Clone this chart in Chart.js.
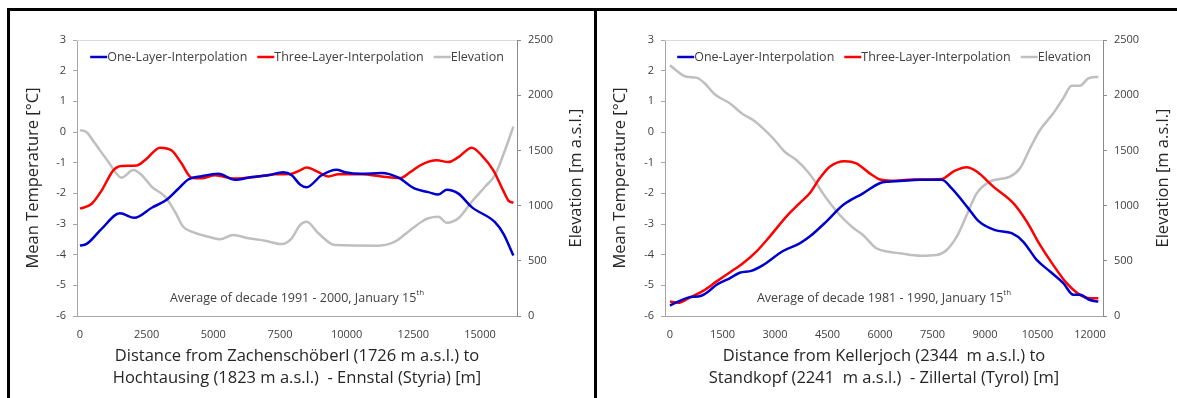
<!DOCTYPE html>
<html>
<head>
<meta charset="utf-8">
<script src="https://cdn.jsdelivr.net/npm/chart.js@4.4.1/dist/chart.umd.min.js"></script>
<style>
  html, body { margin: 0; padding: 0; background: #fff; }
  body { width: 1177px; height: 398px; position: relative; overflow: hidden; }
  .frame { position: absolute; left: 7px; top: 8px; width: 1180px; height: 400px;
           border-left: 3px solid #000; border-top: 3px solid #000; }
  .divider { position: absolute; left: 594px; top: 8px; width: 3px; height: 400px; background: #000; }
  canvas { position: absolute; top: 11px; }
  #leftChart { left: 10px; }
  #rightChart { left: 597px; }
</style>
</head>
<body>
<div class="frame"></div>
<div class="divider"></div>
<canvas id="leftChart" width="584" height="387"></canvas>
<canvas id="rightChart" width="580" height="387"></canvas>

<script>
// --- Daten ---

// Achsenbeschriftungen
const tempTicks = [-6, -5, -4, -3, -2, -1, 0, 1, 2, 3];
const elevTicks = [0, 500, 1000, 1500, 2000, 2500];
const leftXTicks = [0, 2500, 5000, 7500, 10000, 12500, 15000];
const rightXTicks = [0, 1500, 3000, 4500, 6000, 7500, 9000, 10500, 12000];

// Links: Zachenschöberl - Hochtausing (Ennstal)
const leftOneX = [0, 250, 810, 1500, 2040, 2690, 3250, 3690, 4060, 4560, 5190, 5810, 6440, 7060, 7620, 7940, 8250, 8500, 9060, 9620, 9940, 10560, 11310, 11940, 12560, 13060, 13440, 13750, 14190, 14690, 15560, 15880, 16250];
const leftOneY = [-3.70, -3.65, -3.16, -2.65, -2.80, -2.47, -2.21, -1.85, -1.55, -1.44, -1.36, -1.56, -1.47, -1.41, -1.31, -1.41, -1.71, -1.80, -1.41, -1.23, -1.31, -1.36, -1.34, -1.49, -1.85, -1.96, -2.04, -1.88, -2.01, -2.45, -2.94, -3.32, -4.03];
const leftThreeX = [0, 440, 810, 1250, 1560, 2130, 2500, 3000, 3440, 3810, 4190, 4560, 5060, 5810, 6560, 7310, 7940, 8250, 8500, 8940, 9310, 9690, 10560, 11310, 12000, 12380, 12810, 13380, 13810, 14190, 14690, 15060, 15500, 15870, 16060, 16250];
const leftThreeY = [-2.50, -2.34, -1.91, -1.25, -1.11, -1.09, -0.87, -0.51, -0.60, -1.03, -1.49, -1.51, -1.41, -1.52, -1.47, -1.38, -1.36, -1.25, -1.16, -1.31, -1.45, -1.38, -1.38, -1.45, -1.50, -1.31, -1.06, -0.92, -0.98, -0.82, -0.51, -0.76, -1.25, -1.91, -2.23, -2.31];
const leftElevX = [0, 250, 560, 1060, 1560, 2000, 2310, 2690, 3190, 3560, 3870, 4190, 4810, 5250, 5750, 6310, 6940, 7560, 7940, 8250, 8500, 8940, 9560, 11190, 11810, 12310, 12810, 13060, 13440, 13750, 14190, 14690, 15190, 15560, 15940, 16250];
const leftElevY = [1684, 1664, 1564, 1398, 1253, 1322, 1277, 1171, 1081, 945, 809, 764, 718, 695, 734, 704, 682, 652, 704, 824, 854, 749, 643, 637, 673, 764, 854, 885, 899, 845, 885, 1035, 1171, 1277, 1504, 1715];

// Rechts: Kellerjoch - Standkopf (Zillertal)
const rightOneX = [0, 229, 514, 894, 1086, 1323, 1706, 1991, 2323, 2657, 3229, 3706, 3991, 4466, 4943, 5514, 5991, 6229, 6571, 7143, 7763, 8049, 8523, 8809, 9286, 9763, 10094, 10477, 10857, 11237, 11523, 11714, 12000, 12237];
const rightOneY = [-5.66, -5.53, -5.40, -5.34, -5.21, -4.99, -4.77, -4.59, -4.53, -4.34, -3.88, -3.63, -3.41, -2.92, -2.38, -2.00, -1.67, -1.62, -1.60, -1.56, -1.56, -1.84, -2.49, -2.90, -3.20, -3.30, -3.58, -4.17, -4.55, -4.93, -5.31, -5.31, -5.48, -5.53];
const rightThreeX = [0, 229, 563, 943, 1323, 1706, 2086, 2466, 2849, 3323, 3706, 3991, 4277, 4563, 4991, 5323, 5706, 6000, 6286, 6951, 7763, 8094, 8477, 8763, 9237, 9809, 10191, 10571, 10951, 11334, 11714, 12000, 12237];
const rightThreeY = [-5.53, -5.57, -5.40, -5.18, -4.88, -4.58, -4.28, -3.90, -3.41, -2.76, -2.32, -2.00, -1.51, -1.13, -0.95, -1.02, -1.35, -1.55, -1.59, -1.55, -1.53, -1.29, -1.15, -1.29, -1.78, -2.32, -2.92, -3.68, -4.34, -4.93, -5.31, -5.42, -5.42];
const rightElevX = [0, 466, 751, 991, 1277, 1706, 2086, 2371, 2657, 2943, 3277, 3609, 3894, 4180, 4466, 4849, 5229, 5514, 5894, 6229, 6571, 7143, 7620, 7906, 8191, 8477, 8763, 9143, 9714, 10000, 10286, 10571, 10951, 11237, 11477, 11714, 11951, 12237];
const rightElevY = [2270, 2168, 2159, 2108, 2008, 1927, 1827, 1775, 1700, 1610, 1488, 1413, 1322, 1202, 1066, 915, 800, 734, 613, 582, 568, 546, 553, 598, 718, 915, 1111, 1217, 1262, 1338, 1519, 1685, 1836, 1972, 2086, 2086, 2153, 2168];

// --- Hilfsfunktionen ---

const FONT = '"Open Sans", sans-serif';
const TEXT = '#404040';
const TITLE = '#262626';
const AXIS = '#a6a6a6';

Chart.defaults.font.family = FONT;
Chart.defaults.color = TEXT;

function toPoints(xs, ys) {
    return xs.map((x, i) => ({ x: x, y: ys[i] }));
}

function tickSetter(values) {
    return function(scale) { scale.ticks = values.map(v => ({ value: v })); };
}

// Legende im Diagrammbereich, rechter Achsentitel, Hinweistext
const panelExtras = {
    id: 'panelExtras',
    afterDraw(chart, args, opts) {
        const ctx = chart.ctx;
        const a = chart.chartArea;
        const midX = (a.left + a.right) / 2;

        // obere Rahmenlinie
        ctx.save();
        ctx.strokeStyle = '#d9d9d9';
        ctx.lineWidth = 1;
        ctx.beginPath();
        ctx.moveTo(a.left, a.top + 0.5);
        ctx.lineTo(a.right, a.top + 0.5);
        ctx.stroke();
        ctx.restore();

        // Legende: kurze Linie direkt vor dem Text
        ctx.save();
        ctx.font = '12.5px ' + FONT;
        ctx.textAlign = 'left';
        ctx.textBaseline = 'middle';
        const sets = chart.data.datasets;
        const widths = sets.map(ds => ctx.measureText(ds.label).width);
        const total = widths.reduce((s, w) => s + w + 17, 0) + 10 * (sets.length - 1);
        let x = midX - total / 2;
        const ly = a.top + 17;
        sets.forEach((ds, i) => {
            ctx.strokeStyle = ds.borderColor;
            ctx.lineWidth = 2.5;
            ctx.beginPath();
            ctx.moveTo(x, ly);
            ctx.lineTo(x + 17, ly);
            ctx.stroke();
            ctx.fillStyle = TEXT;
            ctx.fillText(ds.label, x + 17, ly);
            x += 17 + widths[i] + 10;
        });
        ctx.restore();

        // Titel der rechten Achse, von unten nach oben
        ctx.save();
        ctx.fillStyle = TITLE;
        ctx.font = '16.5px ' + FONT;
        ctx.textAlign = 'center';
        ctx.textBaseline = 'middle';
        ctx.translate(opts.titleX, (a.top + a.bottom) / 2);
        ctx.rotate(-Math.PI / 2);
        ctx.fillText(opts.rightTitle, 0, 0);
        ctx.restore();

        // Hinweis mit hochgestelltem "th"
        ctx.save();
        ctx.fillStyle = TEXT;
        ctx.textAlign = 'left';
        ctx.textBaseline = 'middle';
        ctx.font = '12.5px ' + FONT;
        const w1 = ctx.measureText(opts.note).width;
        ctx.font = '8px ' + FONT;
        const w2 = ctx.measureText('th').width;
        const x0 = midX - (w1 + w2) / 2;
        ctx.font = '12.5px ' + FONT;
        ctx.fillText(opts.note, x0, opts.noteY);
        ctx.font = '8px ' + FONT;
        ctx.fillText('th', x0 + w1, opts.noteY - 5);
        ctx.restore();
    }
};

function makeChart(id, p) {
    const ctx = document.getElementById(id).getContext('2d');
    const lineStyle = { pointRadius: 0, borderWidth: 2.5, cubicInterpolationMode: 'monotone', fill: false };

    new Chart(ctx, {
        type: 'line',
        data: {
            datasets: [
                Object.assign({ label: 'One-Layer-Interpolation', data: toPoints(p.oneX, p.oneY), borderColor: '#0000cc', yAxisID: 'y' }, lineStyle),
                Object.assign({ label: 'Three-Layer-Interpolation', data: toPoints(p.threeX, p.threeY), borderColor: '#ff0000', yAxisID: 'y' }, lineStyle),
                Object.assign({ label: 'Elevation', data: toPoints(p.elevX, p.elevY), borderColor: '#bfbfbf', yAxisID: 'y1' }, lineStyle)
            ]
        },
        options: {
            responsive: false,
            animation: false,
            devicePixelRatio: 1,
            layout: { padding: { left: 0, right: 0, top: 29, bottom: 0 } },
            plugins: {
                tooltip: { enabled: false },
                legend: { display: false },
                panelExtras: { titleX: 566, rightTitle: 'Elevation [m a.s.l.]', note: p.note, noteY: 287 }
            },
            scales: {
                x: {
                    type: 'linear',
                    min: p.xMin,
                    max: p.xMax,
                    afterBuildTicks: tickSetter(p.xTicks),
                    afterFit: s => { s.height = 82; },
                    grid: { display: true, drawOnChartArea: false, drawTicks: false },
                    border: { color: AXIS, width: 1 },
                    ticks: { padding: 12, maxRotation: 0, autoSkip: false, color: TEXT, font: { size: 11 }, callback: v => String(v) },
                    title: { display: true, text: p.xTitle, color: TITLE, font: { size: 16.5, lineHeight: '22px' }, padding: { top: 0, bottom: 9 } }
                },
                y: {
                    position: 'left',
                    min: -6,
                    max: 3,
                    afterBuildTicks: tickSetter(tempTicks),
                    afterFit: s => { s.width = p.leftW; },
                    grid: { drawOnChartArea: false, drawTicks: true, tickLength: 4, color: AXIS },
                    border: { color: AXIS, width: 1 },
                    ticks: { padding: 7, color: TEXT, font: { size: 11 }, callback: v => String(v) },
                    title: { display: true, text: 'Mean Temperature [°C]', color: TITLE, font: { size: 16.5, lineHeight: 1.2 }, padding: { top: 13, bottom: 0 } }
                },
                y1: {
                    position: 'right',
                    min: 0,
                    max: 2500,
                    afterBuildTicks: tickSetter(elevTicks),
                    afterFit: s => { s.width = p.rightW; },
                    grid: { drawOnChartArea: false, drawTicks: true, tickLength: 4, color: '#8c8c8c' },
                    border: { color: '#8c8c8c', width: 1 },
                    ticks: { padding: 7, color: TEXT, font: { size: 11 }, callback: v => String(v) },
                    title: { display: false }
                }
            }
        },
        plugins: [panelExtras]
    });
}

makeChart('leftChart', {
    oneX: leftOneX, oneY: leftOneY,
    threeX: leftThreeX, threeY: leftThreeY,
    elevX: leftElevX, elevY: leftElevY,
    xTicks: leftXTicks, xMin: -112, xMax: 16387,
    xTitle: ['Distance from Zachenschöberl (1726 m a.s.l.) to', 'Hochtausing (1823 m a.s.l.)  - Ennstal (Styria) [m]'],
    note: 'Average of decade 1991 - 2000, January 15',
    leftW: 67, rightW: 77
});

makeChart('rightChart', {
    oneX: rightOneX, oneY: rightOneY,
    threeX: rightThreeX, threeY: rightThreeY,
    elevX: rightElevX, elevY: rightElevY,
    xTicks: rightXTicks, xMin: -143, xMax: 12371,
    xTitle: ['Distance from Kellerjoch (2344  m a.s.l.) to', 'Standkopf (2241  m a.s.l.)  - Zillertal (Tyrol) [m]'],
    note: 'Average of decade 1981 - 1990, January 15',
    leftW: 68, rightW: 74
});
</script>
</body>
</html>
